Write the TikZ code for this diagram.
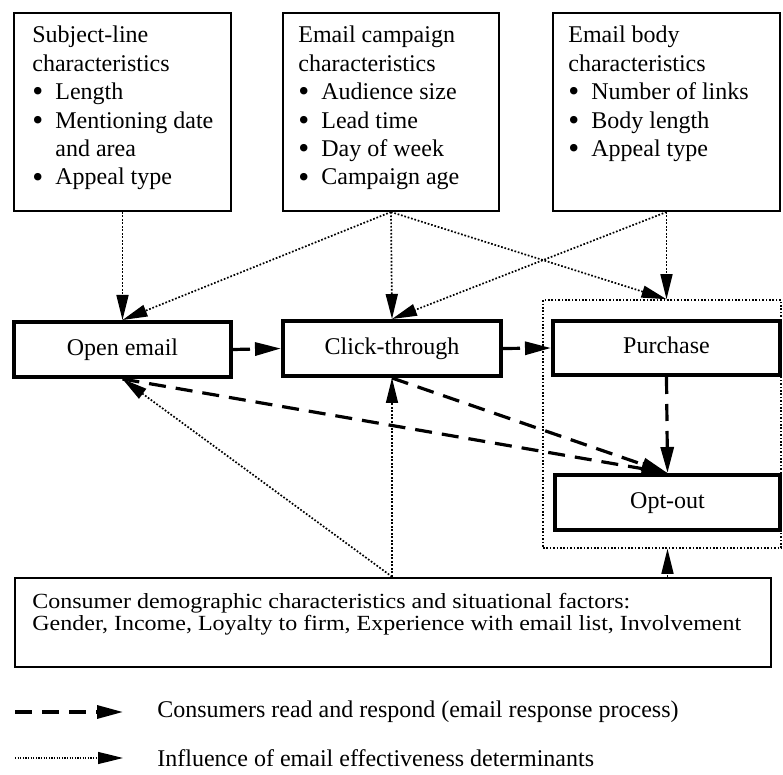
\documentclass[tikz,border=0pt]{standalone}
\usepackage{fontspec}
\setmainfont{Liberation Serif}
\usetikzlibrary{arrows.meta,fit}
% bullet item and its continuation line
\newcommand\bulletline[1]{\makebox[11.5pt][l]{\raisebox{-0.09em}{\scalebox{1.3}{\textbullet}}}#1}
\newcommand\bulletcont[1]{\hspace*{11.5pt}#1}
\begin{document}
\begin{tikzpicture}[x=0.5pt,y=-0.5pt,
  font=\fontsize{12}{14.2}\selectfont,
  charbox/.style={draw, line width=1pt, inner sep=0pt},
  procbox/.style={draw, line width=2pt, inner sep=0pt},
  factorbox/.style={draw, line width=1.3pt, inner sep=0pt},
  groupbox/.style={draw, line width=0.8pt, dash pattern=on 0.8pt off 0.9pt, inner sep=0pt},
  listtext/.style={anchor=base west, inner sep=0pt},
  boxlabel/.style={anchor=base, inner sep=0pt},
  respond/.style={line width=1.6pt, dash pattern=on 8.5pt off 5pt,
    -{Triangle[length=13pt,width=6.5pt]}},
  influence/.style={line width=0.85pt, dash pattern=on 0.85pt off 0.9pt,
    -{Triangle[length=12.5pt,width=6pt]}},
]
\useasboundingbox (0,0) rectangle (783,775);

% determinant boxes
\node[charbox, fit={(14,13) (231,211)}] (subj) {};
\node[charbox, fit={(283,13) (499,211)}] (camp) {};
\node[charbox, fit={(553,13) (780,211)}] (body) {};

\node[listtext] (subjtext) at (32,43) {\begin{tabular}[t]{@{}l@{}}
  Subject-line\\characteristics\\\bulletline{Length}\\
  \bulletline{Mentioning date}\\\bulletcont{and area}\\\bulletline{Appeal type}\end{tabular}};
\node[listtext] (camptext) at (298,43) {\begin{tabular}[t]{@{}l@{}}
  Email campaign\\characteristics\\\bulletline{Audience size}\\
  \bulletline{Lead time}\\\bulletline{Day of week}\\\bulletline{Campaign age}\end{tabular}};
\node[listtext] (bodytext) at (568,43) {\begin{tabular}[t]{@{}l@{}}
  Email body\\characteristics\\\bulletline{Number of links}\\
  \bulletline{Body length}\\\bulletline{Appeal type}\end{tabular}};

% response process
\node[groupbox, fit={(543,300) (781,548)}] (group) {};
\node[procbox, fit={(14,322) (231,377)}] (open) {};
\node[procbox, fit={(283,321) (501,376)}] (click) {};
\node[procbox, fit={(553,321) (780,375)}] (purchase) {};
\node[procbox, fit={(555,475) (780,530)}] (optout) {};
\path (open.center) ++(0,6.5) node[boxlabel] (opentext) {Open email};
\path (click.center) ++(0,6.5) node[boxlabel] (clicktext) {Click-through};
\path (purchase.center) ++(0,5.5) node[boxlabel] (purchasetext) {Purchase};
\path (optout.center) ++(0,6) node[boxlabel] (optouttext) {Opt-out};

% consumer factors
\node[factorbox, fit={(15,578) (771,667)}] (factors) {};
\node[listtext, font=\fontsize{12}{11.4}\selectfont] (factortext) at (32,609)
  {\scalebox{1}[0.9]{\begin{tabular}[t]{@{}l@{}}Consumer demographic characteristics and situational factors:\\
  Gender, Income, Loyalty to firm, Experience with email list, Involvement\end{tabular}}};

% influence of determinants
\draw[influence] (subj.south) -- (open.north);
\draw[influence] (camp.south) -- (open.north);
\draw[influence] (camp.south) -- (click.north);
\draw[influence] (camp.south) -- (purchase.north |- group.north);
\draw[influence] (body.south) -- (purchase.north |- group.north);
\draw[influence] (body.south) -- (click.north);
\draw[influence] (click.south |- factors.north) -- (click.south);
\draw[influence] (click.south |- factors.north) -- (open.south);
\draw[influence] (optout.south |- factors.north) -- (optout.south |- group.south);

% email response process
\draw[respond] (open.east) -- (click.west);
\draw[respond] (click.east) -- (purchase.west);
\draw[respond] (purchase.south) -- (optout.north);
\draw[respond] (click.south) -- (optout.north);
\draw[respond] (open.south) -- (optout.north);

% legend
\coordinate (legA) at (15,712);
\coordinate (legAend) at (123,712);
\coordinate (legB) at (15,758);
\coordinate (legBend) at (123,758);
\draw[respond] (legA) -- (legAend);
\draw[influence, line width=0.6pt, dash pattern=on 0.6pt off 0.7pt] (legB) -- (legBend);
\node[listtext] (legAtext) at (157,718) {Consumers read and respond (email response process)};
\node[listtext] (legBtext) at (157,766) {Influence of email effectiveness determinants};
\end{tikzpicture}
\end{document}
